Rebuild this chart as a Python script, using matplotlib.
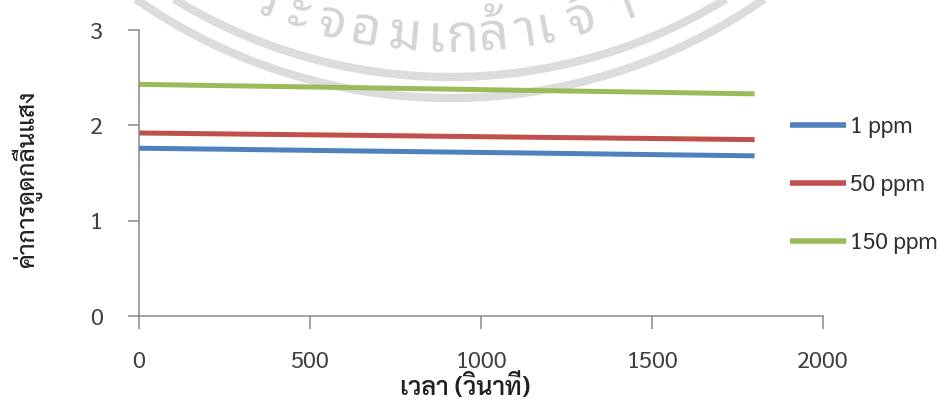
import numpy as np
import matplotlib
matplotlib.use("Agg")
import matplotlib.pyplot as plt

# absorbance readings over time (s)
time_s = [0, 300, 600, 900, 1200, 1500, 1800]
abs_1ppm = [1.76, 1.747, 1.733, 1.72, 1.707, 1.693, 1.68]
abs_50ppm = [1.92, 1.908, 1.897, 1.885, 1.873, 1.862, 1.85]
abs_150ppm = [2.43, 2.413, 2.397, 2.38, 2.363, 2.347, 2.33]
series_labels = ["1 ppm", "50 ppm", "150 ppm"]
series_colors = ["#4F81BD", "#C0504D", "#9BBB59"]

x_ticks = [0, 500, 1000, 1500, 2000]
y_ticks = [0, 1, 2, 3]

# seal watermark text, one entry per glyph cluster with its angle on the ring
seal_glyphs = ["ร", "ะ", "จ", "อ", "ม", "เ", "ก", "ล้", "า", "เ", "จ้", "า"]
seal_angles = [-22.1, -18.1, -14.0, -10.0, -5.3, -1.7, 1.4, 5.1, 8.9, 11.3, 15.6, 20.9]

THAI = ["Sarabun", "DejaVu Sans"]
plt.rcParams["font.family"] = THAI

fig = plt.figure(figsize=(9.48, 4.01), dpi=100)

# watermark layer in pixel coordinates
wm = fig.add_axes([0, 0, 1, 1], zorder=0)
wm.set_xlim(0, 948)
wm.set_ylim(401, 0)
wm.axis("off")
cx, cy = 450, -450
t = np.linspace(0, 2 * np.pi, 400)
for r in (527, 548):
    wm.plot(cx + r * np.cos(t), cy + r * np.sin(t), color="#dcdcdc", lw=6,
            solid_capstyle="butt")
for g, a in zip(seal_glyphs, seal_angles):
    rad = np.radians(a)
    wm.text(cx + 502 * np.sin(rad), cy + 502 * np.cos(rad), g, rotation=a,
            rotation_mode="anchor", ha="center", va="baseline", fontsize=38,
            fontweight="bold", color="#d4d4d4", family=["Noto Sans Thai Looped", "DejaVu Sans"])

ax = fig.add_axes([139 / 948, 1 - 316 / 401, 684 / 948, 286 / 401], zorder=1)
ax.patch.set_alpha(0)

for ys, lab, col in zip([abs_1ppm, abs_50ppm, abs_150ppm], series_labels, series_colors):
    ax.plot(time_s, ys, color=col, lw=3.6, label=lab, solid_capstyle="butt")

ax.set_xlim(0, 2000)
ax.set_ylim(0, 3)
ax.set_xticks(x_ticks)
ax.set_yticks(y_ticks)

for s in ("top", "right"):
    ax.spines[s].set_visible(False)
for s in ("left", "bottom"):
    ax.spines[s].set_color("#868686")
    ax.spines[s].set_linewidth(1.1)

ax.tick_params(axis="y", direction="out", length=8, width=1.1, color="#868686",
               pad=18, labelsize=17, labelcolor="#404040")
ax.tick_params(axis="x", direction="out", length=9.5, width=1.1, color="#868686",
               pad=15, labelsize=17, labelcolor="#404040")

ax.set_xlabel("เวลา (วินาที)", fontsize=18, fontweight="semibold", va="center", color="#222222")
ax.xaxis.set_label_coords(0.477, -0.252)
ax.set_ylabel("ค่าการดูดกลืนแสง", fontsize=17.5, fontweight="medium", va="center", color="#222222")
ax.yaxis.set_label_coords(-0.164, 0.476)

leg = ax.legend(loc="center left", bbox_to_anchor=(0.952, 0.458), frameon=False,
                borderpad=0, borderaxespad=0, fontsize=16.5, handlelength=2.45,
                handletextpad=0.15, labelspacing=1.55, labelcolor="#303030")
for h in leg.get_lines():
    h.set_linewidth(4)

fig.savefig("out.png", dpi=100)
